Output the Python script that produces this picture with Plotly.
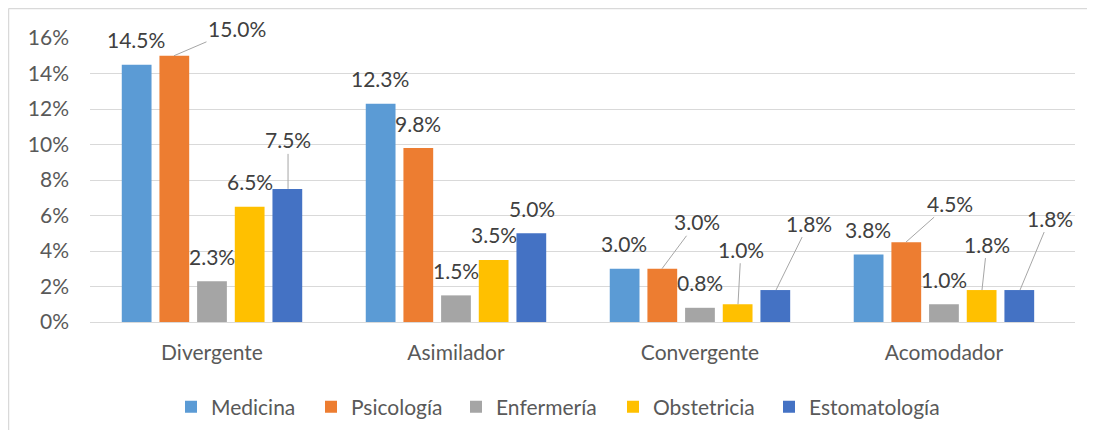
import plotly.graph_objects as go

categories = ['Divergente', 'Asimilador', 'Convergente', 'Acomodador']
series_names = ['Medicina', 'Psicología', 'Enfermería', 'Obstetricia', 'Estomatología']
medicina = [14.5, 12.3, 3.0, 3.8]
psicologia = [15.0, 9.8, 3.0, 4.5]
enfermeria = [2.3, 1.5, 0.8, 1.0]
obstetricia = [6.5, 3.5, 1.0, 1.8]
estomatologia = [7.5, 5.0, 1.8, 1.8]
y_ticks = [0, 2, 4, 6, 8, 10, 12, 14, 16]
y_tick_labels = [f'{t}%' for t in y_ticks]

series_values = [medicina, psicologia, enfermeria, obstetricia, estomatologia]
colors = ['#5B9BD5', '#ED7D31', '#A5A5A5', '#FFC000', '#4472C4']
legend_widths = [95, 100, 112, 111, 135]

# label offsets in pixels (dx, dy, leader line) keyed by (series, category)
label_moves = {
    (1, 0): (63, -27, True),
    (4, 0): (0, -49, True),
    (1, 2): (35, -47, True),
    (3, 2): (3, -55, True),
    (4, 2): (33, -67, True),
    (1, 3): (44, -39, True),
    (3, 3): (5, -46, True),
    (4, 3): (30, -72, True),
}

# page has an 8px body margin, so the figure is a bit smaller than the window
W, H = 1087, 422
ML, MR, MT, MB = 82, 20, 30, 108
BARGAP = 0.228
plot_w = W - ML - MR
plot_h = H - MT - MB
slot = plot_w / len(categories) * (1 - BARGAP) / len(series_names)

font = 'Lato, Calibri, Carlito, sans-serif'
txt_col = '#595959'

fig = go.Figure()
for name, vals, col, lw in zip(series_names, series_values, colors, legend_widths):
    fig.add_trace(go.Bar(
        x=categories, y=vals, name=name, legendwidth=lw,
        marker=dict(color=col, line=dict(width=0)),
    ))

annotations = []
for i, vals in enumerate(series_values):
    shift = (i - 2) * slot
    for j, v in enumerate(vals):
        dx, dy, leader = label_moves.get((i, j), (0, -25, False))
        a = dict(x=categories[j], y=v, xref='x', yref='y', text=f'{v:.1f}%',
                 xshift=shift, font=dict(family=font, size=21, color='#404040'))
        if leader:
            a.update(showarrow=True, ax=dx, ay=dy, arrowhead=0, arrowwidth=1,
                     arrowcolor='#A6A6A6', standoff=0)
        else:
            a.update(showarrow=False, yshift=-dy)
        annotations.append(a)

top = 1 + (MT - 0.5) / plot_h
left = -(ML - 0.5) / plot_w

fig.update_layout(
    width=W, height=H,
    margin=dict(l=ML, r=MR, t=MT, b=MB, autoexpand=False),
    plot_bgcolor='white', paper_bgcolor='white',
    barmode='group', bargap=BARGAP, bargroupgap=0.21,
    font=dict(family=font, size=21, color=txt_col),
    xaxis=dict(showgrid=False, showline=True, linecolor='#D9D9D9', linewidth=1,
               automargin=False, ticks='', ticklabelstandoff=12,
               tickfont=dict(size=21, color=txt_col)),
    yaxis=dict(range=[0, 16], tickvals=y_ticks, ticktext=y_tick_labels,
               showgrid=True, gridcolor='#D9D9D9', gridwidth=1, zeroline=False,
               automargin=False, ticks='', ticklabelstandoff=20,
               tickfont=dict(size=21, color=txt_col)),
    legend=dict(orientation='h', x=(560 - 90) / plot_w, xanchor='center',
                y=-85 / plot_h, yanchor='middle',
                font=dict(size=21, color=txt_col), itemwidth=30, traceorder='normal'),
    annotations=annotations,
    shapes=[
        dict(type='line', xref='paper', yref='paper',
             x0=left, x1=(W + 10 - ML) / plot_w, y0=top, y1=top,
             line=dict(color='#D9D9D9', width=1.5)),
        dict(type='line', xref='paper', yref='paper',
             x0=left, x1=left, y0=top, y1=-(MB + 10) / plot_h,
             line=dict(color='#D9D9D9', width=1.5)),
    ],
)

fig.write_html('out.html')
